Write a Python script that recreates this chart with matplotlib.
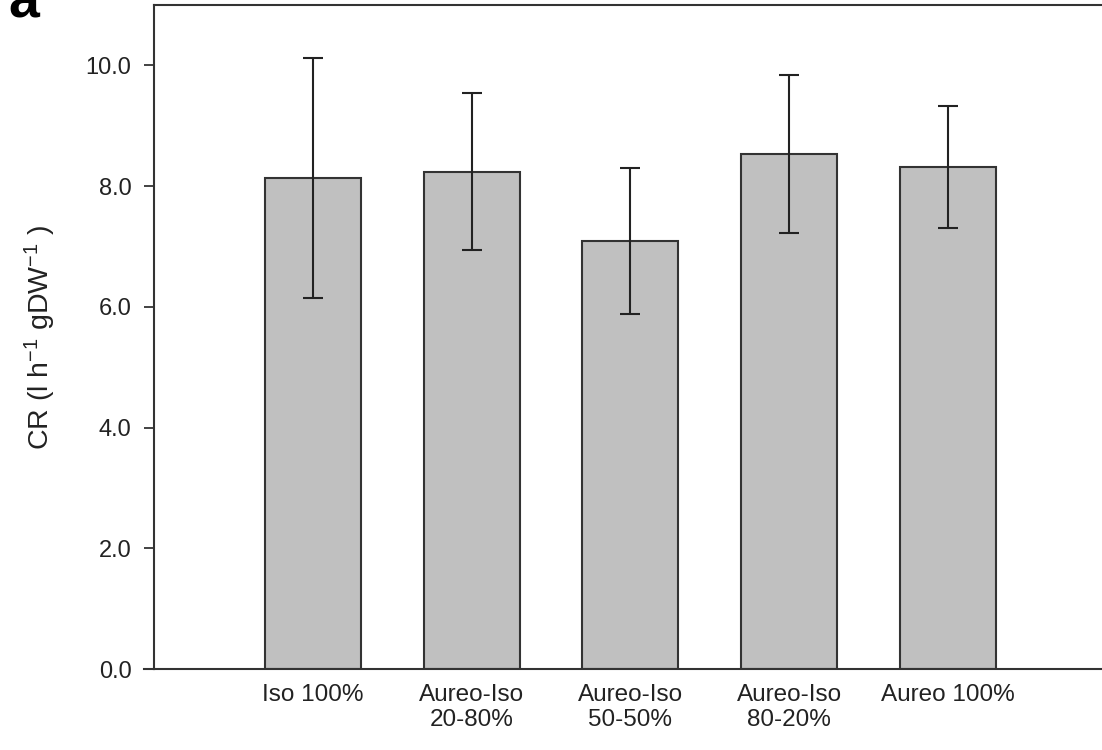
import numpy as np
import matplotlib.pyplot as plt

plt.rcParams['font.family'] = ['Liberation Sans', 'DejaVu Sans']
plt.rcParams['mathtext.fontset'] = 'custom'
plt.rcParams['mathtext.rm'] = 'Liberation Sans'
plt.rcParams['mathtext.default'] = 'regular'

groups = ['Iso 100%', 'Aureo-Iso\n20-80%', 'Aureo-Iso\n50-50%', 'Aureo-Iso\n80-20%', 'Aureo 100%']
cr_mean = [8.14, 8.24, 7.09, 8.53, 8.31]
cr_err = [1.99, 1.30, 1.21, 1.31, 1.01]
yticks = [0, 2, 4, 6, 8, 10]

fig = plt.figure(figsize=(11.02, 7.5), dpi=100)
ax = fig.add_axes([154 / 1102, 81 / 750, 1 - 154 / 1102, 664 / 750])

x = np.arange(len(groups))
ax.bar(x, cr_mean, width=0.605, color='#c0c0c0', edgecolor='#333333', linewidth=1.5, zorder=2)
ax.errorbar(x, cr_mean, yerr=cr_err, fmt='none', ecolor='#222222', elinewidth=1.5,
            capsize=7.2, capthick=1.5, zorder=3)

ax.set_xlim(-1.0, 4.97)
ax.set_ylim(0, 11)
ax.set_yticks(yticks)
ax.set_yticklabels(['%.1f' % v for v in yticks])
ax.set_xticks(x)
ax.set_xticklabels(groups)

ax.tick_params(axis='y', direction='out', length=7.2, width=1.2, pad=9, labelsize=17, colors='#222222')
ax.tick_params(axis='x', length=0, pad=10.5, labelsize=17.5, colors='#222222')

for side in ['left', 'bottom', 'top']:
    ax.spines[side].set_linewidth(1.5)
    ax.spines[side].set_color('#333333')
ax.spines['right'].set_visible(False)

# bottom axis line runs a little past the y axis
ax.plot([-10 / 948, 0], [0, 0], transform=ax.transAxes, color='#333333', linewidth=1.5, clip_on=False)

fig.text(40 / 1102, 1 - 337 / 750, 'CR (l h$^{-1}$ gDW$^{-1}$ )', fontsize=20.5, rotation=90,
         ha='center', va='center', color='#222222')

fig.text(8 / 1102, 1 - 17 / 750, 'a', fontsize=40, fontweight='bold', va='baseline', ha='left')

fig.savefig('out.png', dpi=100)
